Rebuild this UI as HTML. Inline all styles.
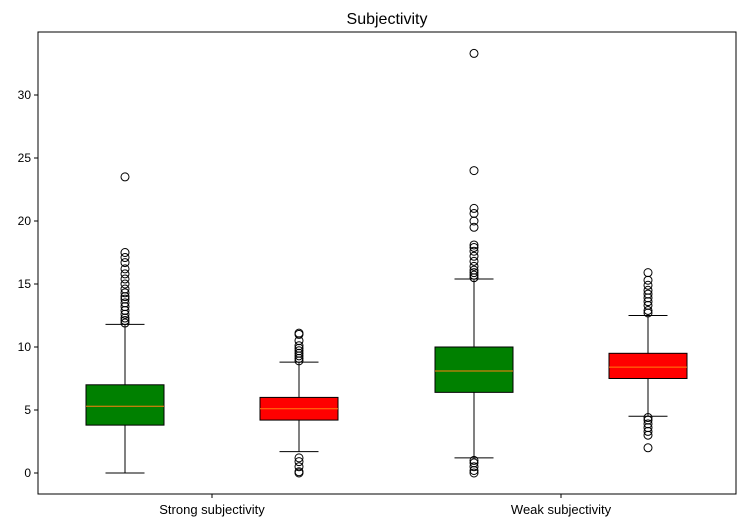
<!DOCTYPE html>
<html><head><meta charset="utf-8"><style>
body{margin:0;background:#fff;}
svg{display:block;font-family:"Liberation Sans","DejaVu Sans",sans-serif;}
</style></head><body>
<svg id="chart" width="744" height="528"></svg>
<script>
const categories = ["Strong subjectivity","Weak subjectivity"];
const boxColors = ["green","red","green","red"];
const q1s = [3.8, 4.2, 6.4, 7.5];
const medians = [5.3, 5.1, 8.1, 8.4];
const q3s = [7.0, 6.0, 10.0, 9.5];
const whiskLo = [0, 1.7, 1.2, 4.5];
const whiskHi = [11.8, 8.8, 15.4, 12.5];
const outliers = [
 [11.9,12.1,12.3,12.6,12.9,13.2,13.5,13.8,14.0,14.3,14.6,15.0,15.4,15.8,16.2,16.7,17.1,17.5,23.5],
 [8.9,9.1,9.3,9.5,9.7,9.9,10.1,10.5,11.0,11.1,1.2,0.9,0.5,0.1,0],
 [15.5,15.7,15.9,16.1,16.4,16.8,17.2,17.6,17.9,18.1,19.5,20.0,20.6,21.0,24.0,33.3,1.0,0.8,0.5,0.2,0],
 [12.7,12.9,13.3,13.6,13.9,14.2,14.5,14.9,15.3,15.9,4.4,4.2,3.9,3.6,3.3,3.0,2.0]
];
const yTicks = [0,5,10,15,20,25,30];
const L=38,R=736,T=32,B=494;
const y = v => 473 - v*12.6;
const xPos = i => [125,299,474,648][i];
const NS="http://www.w3.org/2000/svg";
const svg=document.getElementById('chart');
function mk(tag,attrs,parent){const e=document.createElementNS(NS,tag);for(const k in attrs)e.setAttribute(k,attrs[k]);(parent||svg).appendChild(e);return e;}
const title=mk('text',{x:(L+R)/2,y:24,'text-anchor':'middle','font-size':16});
title.textContent="Subjectivity";


yTicks.forEach(t=>{
 mk('line',{x1:L-4,x2:L,y1:y(t),y2:y(t),stroke:'#000'});
 const tx=mk('text',{x:L-7,y:y(t)+4,'text-anchor':'end','font-size':12});
 tx.textContent=t;
 
 
});
categories.forEach((c,i)=>{
 const cx=(xPos(2*i)+xPos(2*i+1))/2;
 mk('line',{x1:cx,x2:cx,y1:B,y2:B+4,stroke:'#000'});
 const tx=mk('text',{x:cx,y:B+20,'text-anchor':'middle','font-size':13});
 tx.textContent=c;
 
 
});
const hw=39;
for(let i=0;i<4;i++){
 const g=mk('g',{});
 
 
 const cx=xPos(i);
 mk('line',{x1:cx,x2:cx,y1:y(whiskLo[i]),y2:y(q1s[i]),stroke:'#000'},g);
 mk('line',{x1:cx,x2:cx,y1:y(q3s[i]),y2:y(whiskHi[i]),stroke:'#000'},g);
 mk('line',{x1:cx-hw/2,x2:cx+hw/2,y1:y(whiskLo[i]),y2:y(whiskLo[i]),stroke:'#000'},g);
 mk('line',{x1:cx-hw/2,x2:cx+hw/2,y1:y(whiskHi[i]),y2:y(whiskHi[i]),stroke:'#000'},g);
 mk('rect',{x:cx-hw,y:y(q3s[i]),width:2*hw,height:y(q1s[i])-y(q3s[i]),fill:boxColors[i],stroke:'#000'},g);
 mk('line',{x1:cx-hw,x2:cx+hw,y1:y(medians[i]),y2:y(medians[i]),stroke:'#ff7f0e'},g);
 outliers[i].forEach(v=>mk('circle',{cx:cx,cy:y(v),r:4,fill:'none',stroke:'#000'},g));
}
const frame=mk('rect',{x:L,y:T,width:R-L,height:B-T,fill:'none',stroke:'#000'});


</script>
</body></html>
